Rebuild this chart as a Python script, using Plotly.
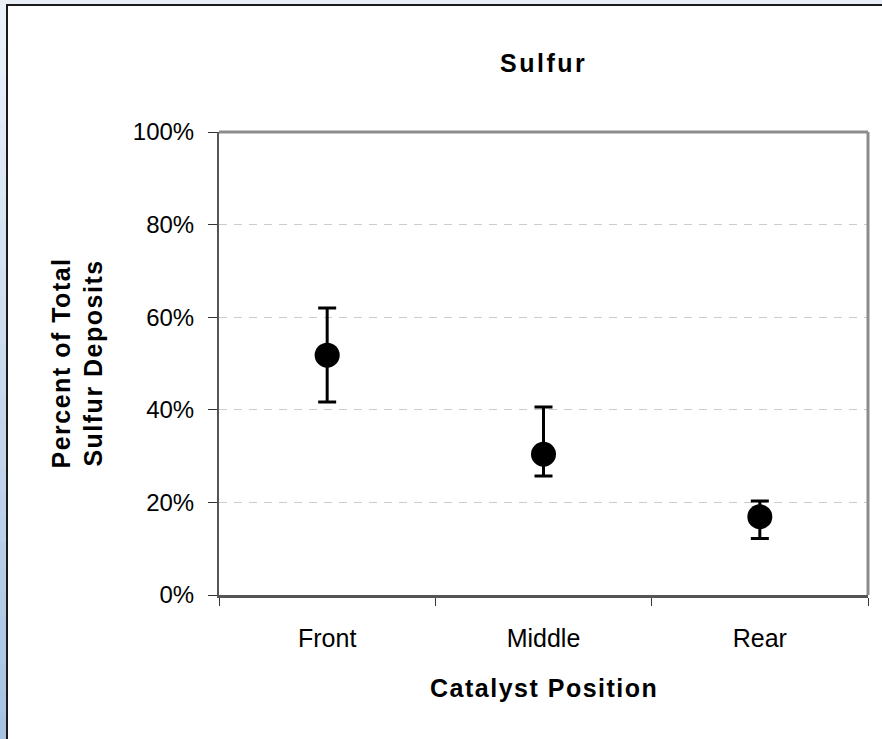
import plotly.graph_objects as go

# ---- data ----
positions = ["Front", "Middle", "Rear"]
sulfur_pct = [51.8, 30.4, 16.9]
err_plus = [10.2, 10.2, 3.4]
err_minus = [10.1, 4.7, 4.7]
y_tickvals = [0, 20, 40, 60, 80, 100]
y_ticktext = ["0%", "20%", "40%", "60%", "80%", "100%"]

W, H = 882, 739
L, R, T, B = 219, 14, 132, 144
PW, PH = W - L - R, H - T - B

def px_x(p):
    return (p - L) / PW

def px_y(p):
    return (H - B - p) / PH

FONT = "Liberation Sans, Arial, sans-serif"

fig = go.Figure()
fig.add_trace(go.Scatter(
    x=positions, y=sulfur_pct, mode="markers",
    marker=dict(color="black", size=25, symbol="circle"),
    error_y=dict(type="data", symmetric=False, array=err_plus, arrayminus=err_minus,
                 color="black", thickness=3, width=9),
    showlegend=False, cliponaxis=False, hoverinfo="skip",
))

shapes = []
# left blue gradient strip
n = 30
c0, c1 = (236, 242, 250), (168, 195, 226)
for i in range(n):
    f = i / (n - 1)
    col = "rgb(%d,%d,%d)" % tuple(round(a + (b - a) * f) for a, b in zip(c0, c1))
    y0 = H * i / n
    y1 = H * (i + 1) / n
    shapes.append(dict(type="rect", xref="paper", yref="paper",
                       x0=px_x(0), x1=px_x(6), y0=px_y(y1 + 1), y1=px_y(y0),
                       line=dict(width=0), fillcolor=col, layer="below"))
# top strip
shapes.append(dict(type="rect", xref="paper", yref="paper",
                   x0=px_x(0), x1=px_x(W), y0=px_y(5), y1=px_y(0),
                   line=dict(width=0), fillcolor="rgb(234,238,246)", layer="below"))
# outer black frame (left and top)
shapes.append(dict(type="line", xref="paper", yref="paper",
                   x0=px_x(7), x1=px_x(7), y0=px_y(H + 5), y1=px_y(5),
                   line=dict(color="#1a1a1a", width=2)))
shapes.append(dict(type="line", xref="paper", yref="paper",
                   x0=px_x(6), x1=px_x(W + 5), y0=px_y(5), y1=px_y(5),
                   line=dict(color="#1a1a1a", width=2)))
# plot-area border top and right (gray)
shapes.append(dict(type="line", xref="paper", yref="paper",
                   x0=0, x1=1, y0=1, y1=1, line=dict(color="#8c8c8c", width=3)))
shapes.append(dict(type="line", xref="paper", yref="paper",
                   x0=1, x1=1, y0=0, y1=1, line=dict(color="#8c8c8c", width=3)))

SP = "<span style='letter-spacing:1.5px'>%s</span>"
annotations = [
    dict(text="<b>" + SP % "Percent of Total" + "<br>" + SP % "Sulfur Deposits" + "</b>",
         xref="paper", yref="paper",
         x=px_x(77), y=0.5, xanchor="center", yanchor="middle", textangle=-90,
         showarrow=False, font=dict(family=FONT, size=25, color="black")),
    dict(text="<b>" + SP % "Catalyst Position" + "</b>", xref="paper", yref="paper",
         x=0.5, y=px_y(688), xanchor="center", yanchor="middle",
         showarrow=False, font=dict(family=FONT, size=25, color="black")),
    dict(text="<b><span style='letter-spacing:2.5px'>Sulfur</span></b>",
         xref="paper", yref="paper",
         x=0.5, y=px_y(63), xanchor="center", yanchor="middle",
         showarrow=False, font=dict(family=FONT, size=25, color="black")),
]

fig.update_layout(
    width=W, height=H,
    margin=dict(l=L, r=R, t=T, b=B, pad=0),
    paper_bgcolor="white", plot_bgcolor="white",
    font=dict(family=FONT, size=24, color="black"),
    shapes=shapes, annotations=annotations,
    xaxis=dict(type="category", tickson="boundaries", ticks="outside", ticklen=8,
               tickcolor="#333", tickwidth=1, range=[-0.5, 2.5],
               showline=True, linecolor="#555555", linewidth=3,
               showgrid=False, zeroline=False, ticklabelstandoff=19,
               tickfont=dict(family=FONT, size=25, color="black")),
    yaxis=dict(range=[0, 100], tickvals=y_tickvals, ticktext=y_ticktext,
               ticks="outside", ticklen=9, tickcolor="#333", tickwidth=1,
               showline=True, linecolor="#555555", linewidth=2,
               showgrid=True, gridcolor="#cccccc", gridwidth=1, griddash="8px,7px",
               zeroline=False, ticklabelstandoff=9,
               tickfont=dict(family=FONT, size=24, color="black")),
)

fig.write_html("out.html", config={"displayModeBar": False},
               post_script="document.body.style.margin='0';document.body.style.overflow='hidden';")
